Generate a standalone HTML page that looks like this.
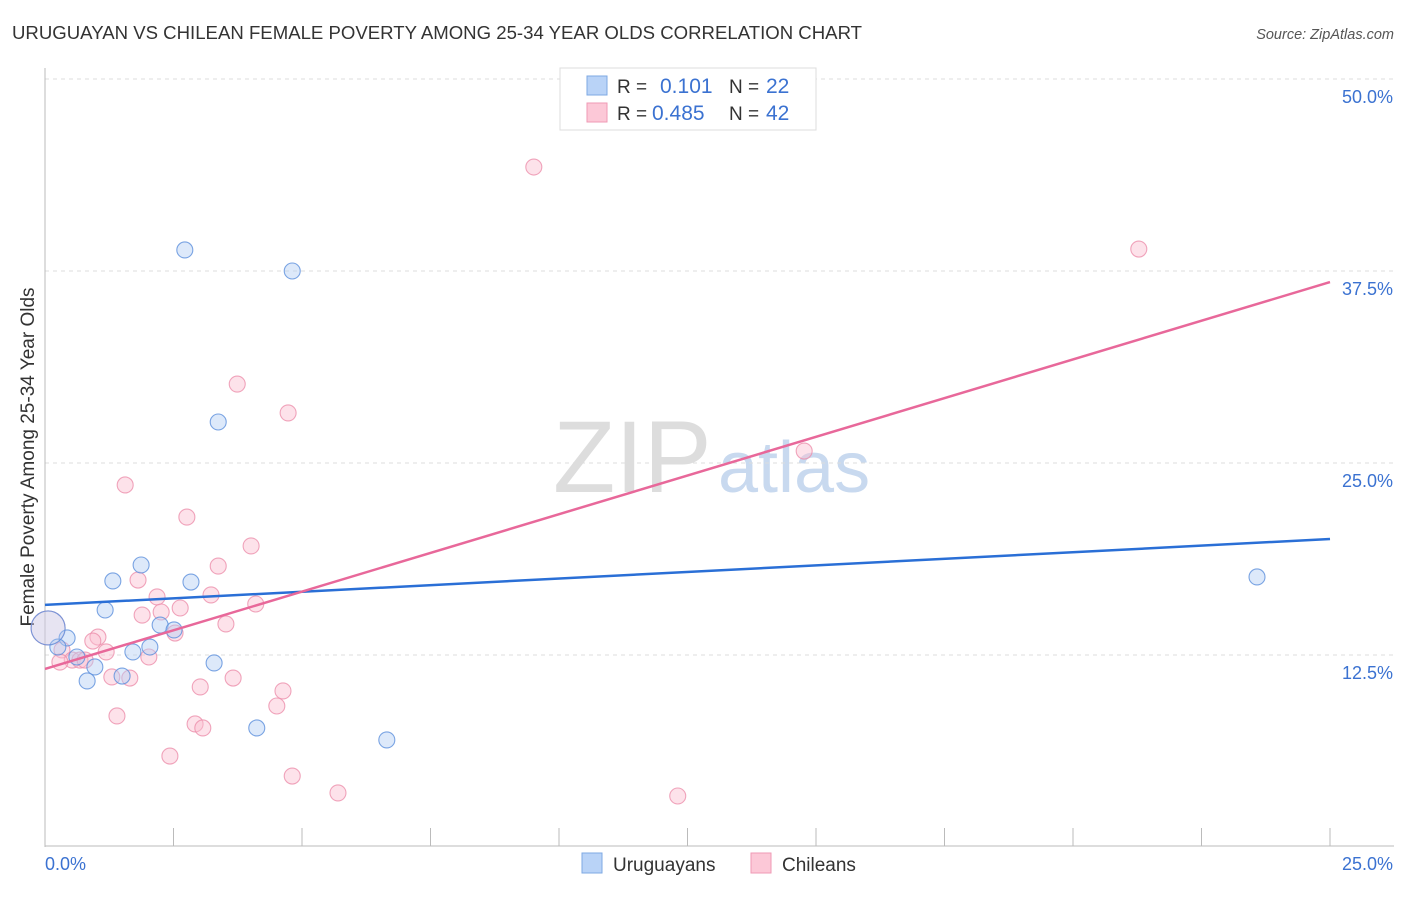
<!DOCTYPE html>
<html><head><meta charset="utf-8"><style>
body{margin:0;background:#fff;font-family:"Liberation Sans",sans-serif}
svg text{font-family:"Liberation Sans",sans-serif}
</style></head><body>
<svg id="c" width="1406" height="892">
<text x="12" y="39" font-size="18.6" fill="#333">URUGUAYAN VS CHILEAN FEMALE POVERTY AMONG 25-34 YEAR OLDS CORRELATION CHART</text>
<text x="1394" y="39" font-size="14.5" fill="#555" font-style="italic" text-anchor="end">Source: ZipAtlas.com</text>
<text x="34" y="457" font-size="19" fill="#333" text-anchor="middle" transform="rotate(-90 34 457)">Female Poverty Among 25-34 Year Olds</text>
<g><text x="553" y="492" font-size="102" fill="#ddd" font-family="Liberation Serif">ZIP</text><text x="718" y="492" font-size="72" fill="#c8d9ef">atlas</text></g>
<g id="grid"></g><g id="pts"></g><g id="lines"></g>
<g>
<rect x="560" y="68" width="256" height="62" fill="#fff" stroke="#ddd"/>
<rect x="587" y="76" width="20" height="19" fill="#b9d3f7" stroke="#7ea8e3"/>
<rect x="587" y="103" width="20" height="19" fill="#fcc8d7" stroke="#ef9ab4"/>
<text x="617" y="93" font-size="19" fill="#333">R =</text><text x="660" y="93" font-size="21" fill="#3b72d1">0.101</text>
<text x="729" y="93" font-size="19" fill="#333">N =</text><text x="766" y="93" font-size="21" fill="#3b72d1">22</text>
<text x="617" y="120" font-size="19" fill="#333">R =</text><text x="652" y="120" font-size="21" fill="#3b72d1">0.485</text>
<text x="729" y="120" font-size="19" fill="#333">N =</text><text x="766" y="120" font-size="21" fill="#3b72d1">42</text>
</g>
<g>
<rect x="582" y="853" width="20" height="20" fill="#b9d3f7" stroke="#7ea8e3"/>
<text x="613" y="871" font-size="19" fill="#333">Uruguayans</text>
<rect x="751" y="853" width="20" height="20" fill="#fcc8d7" stroke="#ef9ab4"/>
<text x="782" y="871" font-size="19" fill="#333">Chileans</text>
</g>
</svg>
<script>
const blueX=[2.72,4.81,3.37,1.87,1.32,2.84,1.17,2.24,2.51,0.43,2.04,1.71,0.25,0.62,0.97,0.82,1.50,3.29,4.12,6.65,23.58,0.06];
const blueY=[38.87,37.5,27.67,18.36,17.32,17.25,15.43,14.45,14.13,13.61,13.02,12.70,13.02,12.37,11.72,10.81,11.13,11.98,7.75,6.97,17.58,14.26];
const pinkX=[9.51,21.28,3.74,4.73,14.77,1.56,2.76,4.01,3.37,1.81,2.18,3.23,4.10,2.63,2.26,1.89,3.52,2.53,1.03,0.93,1.19,2.02,0.33,0.53,0.29,0.68,1.30,1.65,3.66,3.02,4.63,4.51,1.40,2.92,3.07,2.43,4.81,5.70,12.31,0.06,0.78];
const pinkY=[44.27,38.93,30.14,28.26,25.78,23.57,21.48,19.60,18.29,17.38,16.28,16.41,15.82,15.56,15.30,15.10,14.52,13.93,13.67,13.41,12.70,12.37,12.83,12.17,12.04,12.17,11.07,11.00,11.00,10.42,10.16,9.18,8.53,8.01,7.75,5.92,4.62,3.52,3.32,14.26,12.17];
const blueTrend=[15.76,20.05];
const pinkTrend=[11.59,36.78];
const yTicks=[12.5,25,37.5,50];
const yTickLabels=["12.5%","25.0%","37.5%","50.0%"];
const xTicks=[0,2.5,5,7.5,10,12.5,15,17.5,20,22.5,25];
const NS="http://www.w3.org/2000/svg";
const sx=v=>45+v/25*1285, sy=v=>847-v/50*768;
function mk(t,a,p){const e=document.createElementNS(NS,t);for(const k in a)e.setAttribute(k,a[k]);p.appendChild(e);return e;}
const g=document.getElementById('grid');
yTicks.forEach((v,i)=>{
 const l=mk('line',{x1:45,x2:1394,y1:sy(v),y2:sy(v),stroke:'#ddd','stroke-dasharray':'4 4'},g);
 
 
 const t=mk('text',{x:1393,y:sy(v)+24,'font-size':18,fill:'#3b72d1','text-anchor':'end'},g);t.textContent=yTickLabels[i];
 
 
});
const ax=mk('line',{x1:45,x2:45,y1:68,y2:847,stroke:'#bbb'},g);


const bx=mk('line',{x1:45,x2:1394,y1:846,y2:846,stroke:'#bbb'},g);


xTicks.forEach(v=>{const l=mk('line',{x1:sx(v),x2:sx(v),y1:828,y2:846,stroke:'#bbb'},g);
 
 });
const t0=mk('text',{x:45,y:870,'font-size':18,fill:'#3b72d1'},g);t0.textContent=xTicks[0].toFixed(1)+'%';


const t1=mk('text',{x:1393,y:870,'font-size':18,fill:'#3b72d1','text-anchor':'end'},g);t1.textContent=xTicks[xTicks.length-1].toFixed(1)+'%';


const P=document.getElementById('pts');
function dots(X,Y,fill,stroke,name){X.forEach((x,i)=>{const big=(i===X.length-1&&name==='uruguayan-point')||(i===X.length-2&&name==='chilean-point');
 const c=mk('circle',{cx:sx(x),cy:sy(Y[i]),r:big?17:8,fill:fill,'fill-opacity':big?0.3:0.45,stroke:stroke,'stroke-opacity':0.8,'stroke-width':1.1},P);
 
 });}
dots(pinkX,pinkY,'#fbbfd0','#ec8fab','chilean-point');
dots(blueX,blueY,'#b3cff5','#5b8fdc','uruguayan-point');
const L=document.getElementById('lines');
const bl=mk('line',{x1:sx(0),x2:sx(25),y1:sy(blueTrend[0]),y2:sy(blueTrend[1]),stroke:'#2a6fd6','stroke-width':2.5},L);


const pl=mk('line',{x1:sx(0),x2:sx(25),y1:sy(pinkTrend[0]),y2:sy(pinkTrend[1]),stroke:'#e8689a','stroke-width':2.5},L);


</script>
</body></html>
